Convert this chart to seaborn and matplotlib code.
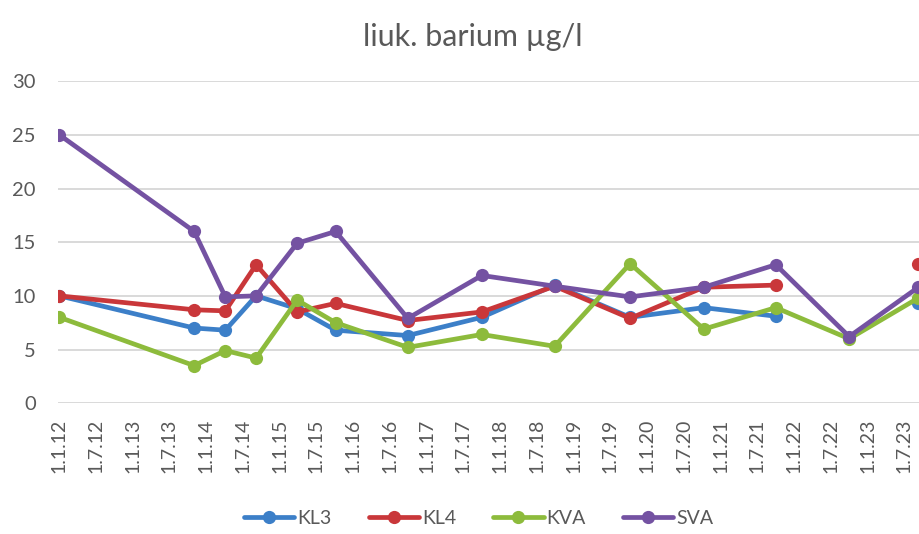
import pandas as pd
import numpy as np
import seaborn as sns
import matplotlib.pyplot as plt
import matplotlib.dates as mdates

dates = ['2012-01-01', '2013-11-01', '2014-04-05', '2014-09-05', '2015-03-28',
         '2015-10-05', '2016-09-28', '2017-10-01', '2018-09-28', '2019-10-08',
         '2020-10-08', '2021-10-01', '2022-10-01', '2023-09-10']
kl3 = [10, 7.0, 6.8, 10.0, 8.8, 6.8, 6.3, 8.0, 11.0, 8.0, 8.9, 8.1, np.nan, 9.3]
kl4 = [10, 8.7, 8.6, 12.9, 8.5, 9.3, 7.7, 8.5, 10.9, 7.9, 10.8, 11.0, np.nan, 13.0]
kva = [8.0, 3.5, 4.9, 4.2, 9.6, 7.5, 5.2, 6.4, 5.3, 13.0, 6.9, 8.9, 6.0, 9.8]
sva = [25, 16, 9.9, 10, 14.9, 16, 7.9, 11.9, 10.9, 9.9, 10.8, 12.9, 6.2, 10.8]
series = {'KL3': kl3, 'KL4': kl4, 'KVA': kva, 'SVA': sva}
colors = {'KL3': '#3C7FC8', 'KL4': '#C9373A', 'KVA': '#8DBB3C', 'SVA': '#7452A2'}

# long form, gaps (missing values) split a line into separate segments
frames = []
for name, vals in series.items():
    v = pd.Series(vals, dtype=float)
    frames.append(pd.DataFrame({'date': pd.to_datetime(dates), 'value': v,
                                'series': name, 'seg': v.isna().cumsum()}))
df = pd.concat(frames).dropna()

sns.set_style('white')
plt.rcParams['font.family'] = ['Lato', 'DejaVu Sans']
grey = '#595959'

fig = plt.figure(figsize=(9.2, 5.34), dpi=100)
ax = fig.add_axes([0.063, 0.245, 0.937, 0.603])
sns.lineplot(data=df, x='date', y='value', hue='series', units='seg', estimator=None,
             palette=colors, marker='o', markersize=9.5, markeredgewidth=0,
             linewidth=3.4, ax=ax)

ax.set_ylim(0, 30)
ax.set_yticks(range(0, 31, 5))
ax.set_xlim(pd.Timestamp('2011-12-25'), pd.Timestamp('2023-09-18'))
ax.set_xticks(pd.date_range('2012-01-01', '2023-07-01', freq='6MS'))
ax.xaxis.set_major_formatter(mdates.DateFormatter('%-d.%-m.%y'))
ax.tick_params(axis='x', rotation=90, length=0, pad=11, labelsize=14, colors=grey)
ax.tick_params(axis='y', length=0, pad=16, labelsize=14.5, colors=grey)
ax.grid(axis='y', color='#D9D9D9', linewidth=1.4)
ax.set_axisbelow(True)
for s in ax.spines.values():
    s.set_visible(False)
ax.set_xlabel('')
ax.set_ylabel('')

handles, labels = ax.get_legend_handles_labels()
ax.legend(handles, labels, loc='center', bbox_to_anchor=(0.488, -0.357),
          ncol=4, frameon=False, fontsize=14, handlelength=2.6, columnspacing=1.9,
          handletextpad=0.15, labelcolor=grey)

fig.text(0.514, 0.93, 'liuk. barium µg/l', ha='center', va='center', fontsize=22, color=grey)
plt.savefig('out.png', dpi=100)
